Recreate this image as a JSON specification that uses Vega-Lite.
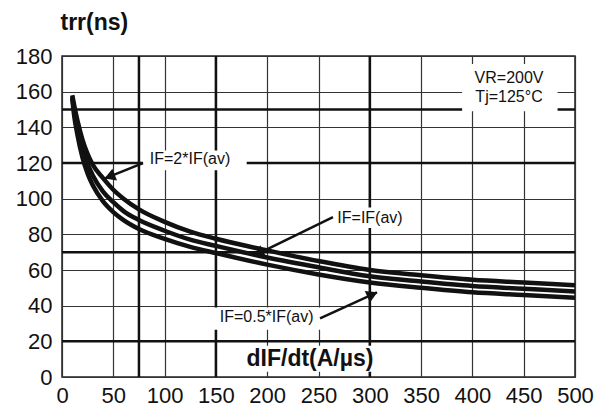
{
  "$schema": "https://vega.github.io/schema/vega-lite/v6.json",
  "width": 513,
  "height": 321,
  "autosize": "none",
  "padding": {"left": 62, "top": 56, "right": 32, "bottom": 31},
  "background": "white",
  "config": {
    "font": "Liberation Sans",
    "view": {"stroke": "#222", "strokeWidth": 1.5},
    "axisX": {
      "values": [0, 25, 50, 75, 100, 125, 150, 175, 200, 225, 250, 275, 300, 325, 350, 375, 400, 425, 450, 475, 500],
      "labelExpr": "datum.value % 50 === 0 ? datum.label : ''",
      "grid": true, "gridColor": "#333", "gridWidth": 1.2,
      "ticks": false, "domain": false,
      "labelFontSize": 22, "labelColor": "#111", "labelPadding": 8,
      "labelOverlap": false, "labelFlush": false, "labelBound": false
    },
    "axisY": {
      "values": [0, 10, 20, 30, 40, 50, 60, 70, 80, 90, 100, 110, 120, 130, 140, 150, 160, 170, 180],
      "labelExpr": "datum.value % 20 === 0 ? datum.label : ''",
      "grid": true, "gridColor": "#333", "gridWidth": 1.2,
      "ticks": false, "domain": false,
      "labelFontSize": 22, "labelColor": "#111", "labelPadding": 10,
      "labelOverlap": false, "labelFlush": false, "labelBound": false,
      "titleAngle": 0, "titleX": -2, "titleY": -27,
      "titleAlign": "left", "titleBaseline": "alphabetic",
      "titleFontSize": 23, "titleFontWeight": "bold", "titleColor": "#111"
    }
  },
  "datasets": {
    "curves": [
      {"dIF": 10, "trr": 158, "IF": "2*IF(av)"},
      {"dIF": 12, "trr": 152, "IF": "2*IF(av)"},
      {"dIF": 15, "trr": 144, "IF": "2*IF(av)"},
      {"dIF": 20, "trr": 133, "IF": "2*IF(av)"},
      {"dIF": 25, "trr": 125, "IF": "2*IF(av)"},
      {"dIF": 30, "trr": 119, "IF": "2*IF(av)"},
      {"dIF": 40, "trr": 111.5, "IF": "2*IF(av)"},
      {"dIF": 50, "trr": 105, "IF": "2*IF(av)"},
      {"dIF": 60, "trr": 100, "IF": "2*IF(av)"},
      {"dIF": 75, "trr": 94, "IF": "2*IF(av)"},
      {"dIF": 100, "trr": 87, "IF": "2*IF(av)"},
      {"dIF": 125, "trr": 81.5, "IF": "2*IF(av)"},
      {"dIF": 150, "trr": 77.5, "IF": "2*IF(av)"},
      {"dIF": 200, "trr": 71, "IF": "2*IF(av)"},
      {"dIF": 250, "trr": 65, "IF": "2*IF(av)"},
      {"dIF": 300, "trr": 60, "IF": "2*IF(av)"},
      {"dIF": 350, "trr": 57, "IF": "2*IF(av)"},
      {"dIF": 400, "trr": 54.5, "IF": "2*IF(av)"},
      {"dIF": 450, "trr": 53, "IF": "2*IF(av)"},
      {"dIF": 500, "trr": 51.5, "IF": "2*IF(av)"},
      {"dIF": 10, "trr": 157, "IF": "IF(av)"},
      {"dIF": 12, "trr": 149, "IF": "IF(av)"},
      {"dIF": 15, "trr": 140, "IF": "IF(av)"},
      {"dIF": 20, "trr": 128, "IF": "IF(av)"},
      {"dIF": 25, "trr": 119.5, "IF": "IF(av)"},
      {"dIF": 30, "trr": 113, "IF": "IF(av)"},
      {"dIF": 40, "trr": 104, "IF": "IF(av)"},
      {"dIF": 50, "trr": 98, "IF": "IF(av)"},
      {"dIF": 60, "trr": 93, "IF": "IF(av)"},
      {"dIF": 75, "trr": 88, "IF": "IF(av)"},
      {"dIF": 100, "trr": 82, "IF": "IF(av)"},
      {"dIF": 125, "trr": 77, "IF": "IF(av)"},
      {"dIF": 150, "trr": 73.5, "IF": "IF(av)"},
      {"dIF": 200, "trr": 67, "IF": "IF(av)"},
      {"dIF": 250, "trr": 61.5, "IF": "IF(av)"},
      {"dIF": 300, "trr": 56.5, "IF": "IF(av)"},
      {"dIF": 350, "trr": 53.5, "IF": "IF(av)"},
      {"dIF": 400, "trr": 51, "IF": "IF(av)"},
      {"dIF": 450, "trr": 49.5, "IF": "IF(av)"},
      {"dIF": 500, "trr": 48, "IF": "IF(av)"},
      {"dIF": 10, "trr": 156, "IF": "0.5*IF(av)"},
      {"dIF": 12, "trr": 146, "IF": "0.5*IF(av)"},
      {"dIF": 15, "trr": 136, "IF": "0.5*IF(av)"},
      {"dIF": 20, "trr": 123, "IF": "0.5*IF(av)"},
      {"dIF": 25, "trr": 114, "IF": "0.5*IF(av)"},
      {"dIF": 30, "trr": 107.5, "IF": "0.5*IF(av)"},
      {"dIF": 40, "trr": 98.5, "IF": "0.5*IF(av)"},
      {"dIF": 50, "trr": 92.5, "IF": "0.5*IF(av)"},
      {"dIF": 60, "trr": 88, "IF": "0.5*IF(av)"},
      {"dIF": 75, "trr": 83, "IF": "0.5*IF(av)"},
      {"dIF": 100, "trr": 77.5, "IF": "0.5*IF(av)"},
      {"dIF": 125, "trr": 73, "IF": "0.5*IF(av)"},
      {"dIF": 150, "trr": 69.5, "IF": "0.5*IF(av)"},
      {"dIF": 200, "trr": 63, "IF": "0.5*IF(av)"},
      {"dIF": 250, "trr": 57.5, "IF": "0.5*IF(av)"},
      {"dIF": 300, "trr": 53, "IF": "0.5*IF(av)"},
      {"dIF": 350, "trr": 50, "IF": "0.5*IF(av)"},
      {"dIF": 400, "trr": 47.5, "IF": "0.5*IF(av)"},
      {"dIF": 450, "trr": 46, "IF": "0.5*IF(av)"},
      {"dIF": 500, "trr": 44.5, "IF": "0.5*IF(av)"}
    ],
    "thickx": [{"x": 75}, {"x": 150}, {"x": 300}],
    "thicky": [{"y": 20}, {"y": 70}, {"y": 120}, {"y": 150}],
    "boxes": [
      {"x": 79, "x2": 180, "y": 116, "y2": 127},
      {"x": 261, "x2": 339, "y": 83.5, "y2": 95},
      {"x": 141, "x2": 259, "y": 26.5, "y2": 39},
      {"x": 390, "x2": 483, "y": 149, "y2": 175.5},
      {"x": 153, "x2": 315, "y": 3, "y2": 17.5}
    ],
    "notes": [
      {"x": 124.8, "y": 119.7, "text": "IF=2*IF(av)"},
      {"x": 300.2, "y": 86.2, "text": "IF=IF(av)"},
      {"x": 199.5, "y": 31, "text": "IF=0.5*IF(av)"},
      {"x": 435.7, "y": 164.6, "text": "VR=200V"},
      {"x": 435.7, "y": 154.3, "text": "Tj=125°C"}
    ],
    "axislabel": [{"x": 241.7, "y": 6.1, "text": "dIF/dt(A/µs)"}],
    "arrows": [
      {"x": 78.9, "y": 119.9, "x2": 41.9, "y2": 111.4},
      {"x": 264.1, "y": 89.6, "x2": 187, "y2": 68},
      {"x": 251.5, "y": 32.9, "x2": 307, "y2": 47.5}
    ]
  },
  "layer": [
    {
      "data": {"name": "thickx"},
      "mark": {"type": "rule", "color": "#111", "strokeWidth": 2.5},
      "encoding": {
        "x": {"field": "x", "type": "quantitative", "scale": {"domain": [0, 500], "nice": false}, "title": null}
      }
    },
    {
      "data": {"name": "thicky"},
      "mark": {"type": "rule", "color": "#111", "strokeWidth": 2.5},
      "encoding": {
        "y": {"field": "y", "type": "quantitative", "scale": {"domain": [0, 180], "nice": false}, "title": "trr(ns)"}
      }
    },
    {
      "data": {"name": "boxes"},
      "mark": {"type": "rect", "fill": "white"},
      "encoding": {
        "x": {"field": "x", "type": "quantitative", "scale": {"domain": [0, 500], "nice": false}, "title": null},
        "x2": {"field": "x2"},
        "y": {"field": "y", "type": "quantitative", "scale": {"domain": [0, 180], "nice": false}, "title": "trr(ns)"},
        "y2": {"field": "y2"}
      }
    },
    {
      "data": {"name": "curves"},
      "mark": {"type": "line", "color": "#111", "strokeWidth": 4.5, "interpolate": "monotone"},
      "encoding": {
        "x": {"field": "dIF", "type": "quantitative", "scale": {"domain": [0, 500], "nice": false}, "title": null},
        "y": {"field": "trr", "type": "quantitative", "scale": {"domain": [0, 180], "nice": false}, "title": "trr(ns)"},
        "detail": {"field": "IF", "type": "nominal"}
      }
    },
    {
      "data": {"name": "arrows"},
      "mark": {"type": "rule", "color": "#111", "strokeWidth": 2.5},
      "encoding": {
        "x": {"field": "x", "type": "quantitative", "scale": {"domain": [0, 500], "nice": false}, "title": null},
        "x2": {"field": "x2"},
        "y": {"field": "y", "type": "quantitative", "scale": {"domain": [0, 180], "nice": false}, "title": "trr(ns)"},
        "y2": {"field": "y2"}
      }
    },
    {
      "data": {"values": [{"x": 46.4, "y": 112.4}]},
      "mark": {"type": "point", "shape": "triangle-up", "filled": true, "color": "#111", "size": 160, "angle": 248.5, "opacity": 1},
      "encoding": {
        "x": {"field": "x", "type": "quantitative", "scale": {"domain": [0, 500], "nice": false}, "title": null},
        "y": {"field": "y", "type": "quantitative", "scale": {"domain": [0, 180], "nice": false}, "title": "trr(ns)"}
      }
    },
    {
      "data": {"values": [{"x": 191.3, "y": 69.3}]},
      "mark": {"type": "point", "shape": "triangle-up", "filled": true, "color": "#111", "size": 160, "angle": 243.4, "opacity": 1},
      "encoding": {
        "x": {"field": "x", "type": "quantitative", "scale": {"domain": [0, 500], "nice": false}, "title": null},
        "y": {"field": "y", "type": "quantitative", "scale": {"domain": [0, 180], "nice": false}, "title": "trr(ns)"}
      }
    },
    {
      "data": {"values": [{"x": 302.5, "y": 46.3}]},
      "mark": {"type": "point", "shape": "triangle-up", "filled": true, "color": "#111", "size": 160, "angle": 65.5, "opacity": 1},
      "encoding": {
        "x": {"field": "x", "type": "quantitative", "scale": {"domain": [0, 500], "nice": false}, "title": null},
        "y": {"field": "y", "type": "quantitative", "scale": {"domain": [0, 180], "nice": false}, "title": "trr(ns)"}
      }
    },
    {
      "data": {"name": "notes"},
      "mark": {"type": "text", "fontSize": 16, "color": "#111", "align": "center", "baseline": "alphabetic"},
      "encoding": {
        "x": {"field": "x", "type": "quantitative", "scale": {"domain": [0, 500], "nice": false}, "title": null},
        "y": {"field": "y", "type": "quantitative", "scale": {"domain": [0, 180], "nice": false}, "title": "trr(ns)"},
        "text": {"field": "text"}
      }
    },
    {
      "data": {"name": "axislabel"},
      "mark": {"type": "text", "fontSize": 23, "fontWeight": "bold", "color": "#111", "align": "center", "baseline": "alphabetic"},
      "encoding": {
        "x": {"field": "x", "type": "quantitative", "scale": {"domain": [0, 500], "nice": false}, "title": null},
        "y": {"field": "y", "type": "quantitative", "scale": {"domain": [0, 180], "nice": false}, "title": "trr(ns)"},
        "text": {"field": "text"}
      }
    }
  ]
}
